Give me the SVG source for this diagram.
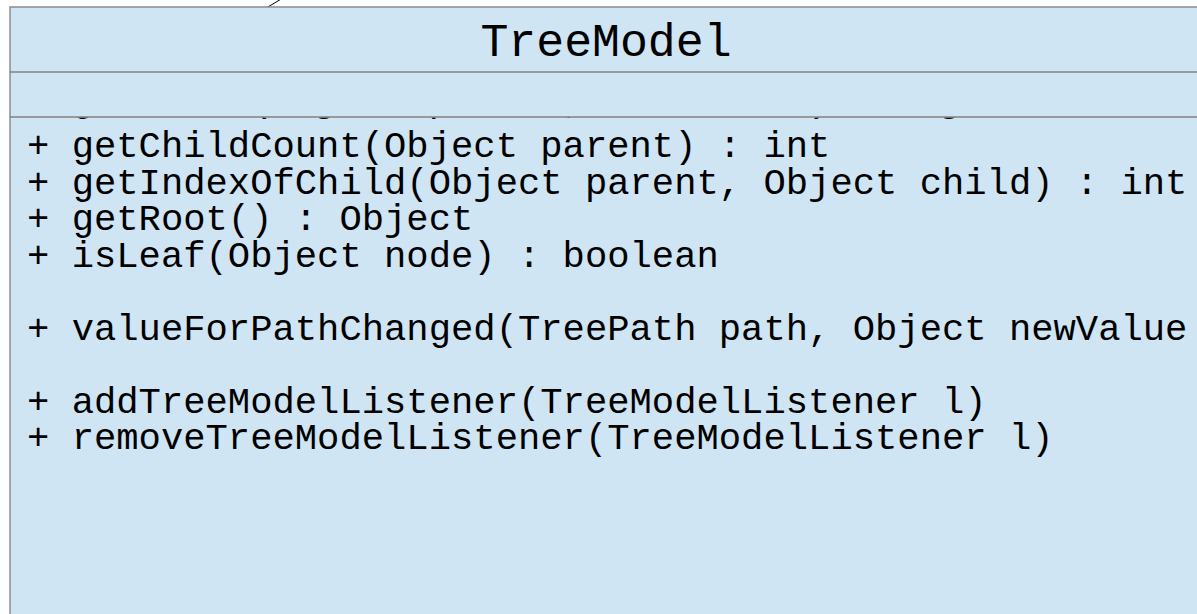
<svg xmlns="http://www.w3.org/2000/svg" width="1197" height="614" viewBox="0 0 1197 614">
<style>
.box{fill:#cfe5f3;stroke:#8c8c8c;stroke-width:1.5}
.div{stroke:#808080;stroke-width:1.5}
.title{font-family:"Courier New","Liberation Mono",monospace;font-size:46.5px;fill:#000}
.op{font-family:"Courier New","Liberation Mono",monospace;font-size:37.2px;fill:#000}
.conn{stroke:#000;stroke-width:1;fill:none}
</style>
<defs>
<clipPath id="opsClip"><rect x="10" y="117.8" width="1200" height="500"/></clipPath>
</defs>
<rect width="1197" height="614" fill="#ffffff"/>
<g id="connectors">
<line class="conn" x1="267" y1="7.5" x2="282" y2="-1.5"/>
</g>
<g id="TreeModel">
<rect class="box" x="10" y="7" width="1200" height="620"/>
<text class="title" x="606" y="56" text-anchor="middle">TreeModel</text>
<line class="div" x1="10" y1="72" x2="1200" y2="72"/>
<line class="div" x1="10" y1="117" x2="1200" y2="117"/>
<g clip-path="url(#opsClip)">
<text class="op" x="27" y="110.5">+ getChild(Object parent, int index) : Object</text>
</g>
<text class="op" x="27" y="157">+ getChildCount(Object parent) : int</text>
<text class="op" x="27" y="193.5">+ getIndexOfChild(Object parent, Object child) : int</text>
<text class="op" x="27" y="230">+ getRoot() : Object</text>
<text class="op" x="27" y="266.5">+ isLeaf(Object node) : boolean</text>
<text class="op" x="27" y="339.5">+ valueForPathChanged(TreePath path, Object newValue</text>
<text class="op" x="27" y="412.5">+ addTreeModelListener(TreeModelListener l)</text>
<text class="op" x="27" y="449">+ removeTreeModelListener(TreeModelListener l)</text>
</g>
</svg>
